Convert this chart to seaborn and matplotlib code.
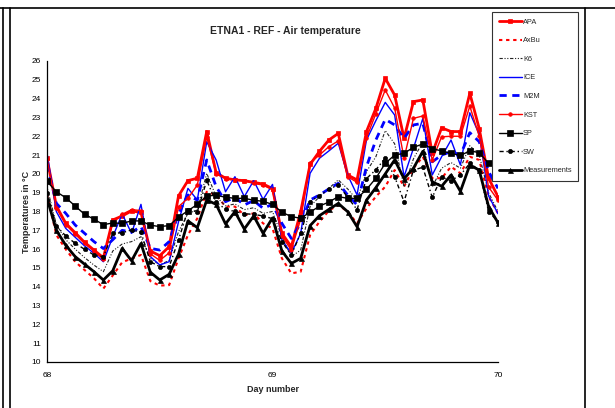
import numpy as np
import matplotlib
matplotlib.use("Agg")
import matplotlib.pyplot as plt
from matplotlib.lines import Line2D
import seaborn as sns

# Hourly air temperatures, day 68 00h to day 70 00h
start_day = 68
hours = list(range(49))

apa = [20.83, 18.29, 17.37, 16.87, 16.36, 15.95, 15.54, 17.55, 17.76, 18.03,
       17.95, 15.90, 15.65, 16.13, 18.83, 19.64, 19.77, 22.25, 20.06, 19.77,
       19.68, 19.64, 19.55, 19.46, 19.22, 16.84, 16.13, 17.99, 20.50, 21.20,
       21.80, 22.15, 19.94, 19.68, 22.25, 23.48, 25.08, 24.19, 21.89, 23.84,
       23.93, 21.09, 22.45, 22.25, 22.25, 24.28, 22.41, 19.77, 18.79]
axbu = [18.90, 16.75, 15.99, 15.33, 14.89, 14.45, 13.90, 14.60, 15.30, 15.50,
        15.69, 14.30, 14.06, 14.09, 15.51, 16.75, 17.64, 19.05, 18.88, 18.26,
        18.26, 17.81, 17.90, 17.37, 17.10, 15.51, 14.71, 14.80, 16.75, 17.46,
        18.04, 18.35, 17.99, 17.37, 18.17, 18.79, 19.32, 20.20, 19.32, 20.30,
        20.91, 19.77, 19.77, 20.38, 20.03, 20.91, 20.74, 18.79, 17.90]
k6 = [19.30, 17.30, 16.50, 16.00, 15.55, 15.15, 14.80, 15.90, 16.27, 16.40,
      16.66, 15.51, 15.16, 15.40, 16.93, 17.90, 18.08, 20.03, 18.79, 18.30,
      18.40, 18.10, 18.20, 17.90, 18.00, 16.66, 15.60, 15.95, 18.26, 18.79,
      19.23, 19.68, 19.20, 18.61, 20.12, 20.91, 22.30, 21.60, 19.30, 20.80,
      21.70, 19.30, 20.30, 20.60, 20.30, 21.50, 21.00, 19.00, 18.00]
ice = [21.10, 17.99, 17.10, 16.63, 16.17, 15.78, 15.33, 16.66, 17.87, 16.84,
       18.38, 15.60, 15.16, 15.33, 17.46, 19.23, 18.61, 21.71, 20.74, 19.05,
       19.85, 18.79, 19.64, 18.64, 19.44, 16.49, 15.78, 16.84, 20.03, 20.83,
       21.22, 21.63, 19.94, 18.88, 21.80, 22.83, 23.80, 23.13, 19.85, 21.36,
       22.95, 19.94, 20.91, 21.80, 20.47, 23.25, 22.10, 18.83, 17.88]
m2m = [20.50, 18.43, 17.90, 17.28, 16.84, 16.40, 16.03, 16.50, 17.00, 16.90,
       17.20, 16.04, 15.95, 16.40, 17.90, 18.88, 18.60, 20.74, 19.32, 18.52,
       18.75, 18.35, 18.58, 18.17, 18.38, 17.37, 16.57, 17.37, 18.61, 18.88,
       19.20, 19.50, 18.88, 18.35, 20.38, 21.80, 22.90, 22.60, 21.89, 22.60,
       22.69, 20.64, 21.00, 21.18, 21.00, 22.19, 21.71, 20.12, 19.23]
kst = [20.80, 18.20, 17.30, 16.80, 16.30, 15.90, 15.45, 17.40, 17.85, 18.10,
       18.05, 15.75, 15.40, 15.80, 18.26, 18.70, 19.41, 21.98, 20.00, 19.75,
       19.70, 19.62, 19.50, 19.40, 19.15, 16.70, 15.95, 17.60, 20.60, 21.00,
       21.45, 21.75, 19.85, 19.55, 21.90, 23.20, 24.46, 23.50, 20.83, 22.95,
       23.08, 20.74, 21.97, 22.00, 22.00, 23.60, 22.00, 19.30, 18.60]
sp = [19.60, 19.05, 18.73, 18.29, 17.85, 17.59, 17.30, 17.39, 17.37, 17.50,
      17.50, 17.27, 17.20, 17.25, 17.70, 18.04, 18.38, 18.83, 18.86, 18.76,
      18.70, 18.70, 18.60, 18.54, 18.38, 17.96, 17.73, 17.64, 17.96, 18.29,
      18.50, 18.79, 18.70, 18.70, 19.17, 19.77, 20.56, 21.00, 21.09, 21.41,
      21.59, 21.34, 21.22, 21.09, 20.98, 21.22, 21.13, 20.56, 20.30]
sw = [19.00, 17.23, 16.70, 16.31, 15.99, 15.69, 15.60, 16.84, 16.87, 17.02,
      16.90, 15.33, 15.07, 15.07, 16.49, 18.08, 17.99, 19.65, 18.50, 18.12,
      18.00, 17.88, 17.85, 17.76, 17.62, 16.40, 15.69, 16.84, 18.52, 18.85,
      19.17, 19.43, 18.75, 18.10, 19.75, 20.22, 20.83, 19.85, 18.52, 20.20,
      20.35, 18.75, 19.83, 19.64, 19.94, 20.56, 20.20, 17.99, 17.46]
measurements = [18.70, 17.00, 16.20, 15.60, 15.20, 14.80, 14.36, 14.85, 16.04, 15.38,
                16.30, 14.77, 14.36, 14.66, 15.74, 17.50, 17.14, 18.61, 18.38, 17.34,
                17.99, 17.07, 17.76, 16.84, 17.66, 15.90, 15.24, 15.51, 17.25, 17.78,
                18.11, 18.43, 17.99, 17.19, 18.60, 19.27, 20.00, 20.74, 19.75, 20.30,
                21.20, 19.58, 19.34, 19.94, 19.07, 20.47, 20.20, 18.26, 17.40]

series_names = ["APA", "AxBu", "K6", "ICE", "M2M", "KST", "SP", "SW", "Measurements"]
series_values = [apa, axbu, k6, ice, m2m, kst, sp, sw, measurements]

y_ticks = list(range(10, 27))
x_ticks = [68, 69, 70]

RED = "#ff0000"
BLUE = "#0000ff"
BLACK = "#000000"
styles = {
    "APA": dict(color=RED, linewidth=2.0, linestyle="-", marker="s", markersize=3.4),
    "AxBu": dict(color=RED, linewidth=1.5, linestyle=(0, (1.6, 1.8)), marker=None, markersize=0),
    "K6": dict(color="#222222", linewidth=0.8, linestyle=(0, (3, 1.5, 1, 1.5, 1, 1.5)), marker=None, markersize=0),
    "ICE": dict(color=BLUE, linewidth=1.0, linestyle="-", marker=None, markersize=0),
    "M2M": dict(color=BLUE, linewidth=2.0, linestyle=(0, (2.6, 2.0)), marker=None, markersize=0),
    "KST": dict(color=RED, linewidth=1.0, linestyle="-", marker="o", markersize=2.6),
    "SP": dict(color=BLACK, linewidth=1.0, linestyle="-", marker="s", markersize=4.8),
    "SW": dict(color=BLACK, linewidth=1.0, linestyle=(0, (3, 2, 1, 2)), marker="o", markersize=3.0),
    "Measurements": dict(color=BLACK, linewidth=2.0, linestyle="-", marker="^", markersize=3.6),
}

sns.set_theme(style="white")
plt.rcParams["font.family"] = ["Liberation Sans", "DejaVu Sans"]

W, H = 615, 408
fig = plt.figure(figsize=(W / 100, H / 100), dpi=100)
fig.patch.set_facecolor("white")

# plot area in pixel coordinates
x0, x1, y_top, y_bot = 47, 498, 61, 362
ax = fig.add_axes([x0 / W, 1 - y_bot / H, (x1 - x0) / W, (y_bot - y_top) / H])
ax.set_facecolor("white")

day = start_day + np.array(hours) / 24.0

for name, vals in zip(series_names, series_values):
    st = styles[name]
    kws = dict(color=st["color"], linewidth=st["linewidth"], linestyle=st["linestyle"])
    if st["marker"]:
        kws.update(marker=st["marker"], markersize=st["markersize"],
                   markeredgecolor=st["color"], markerfacecolor=st["color"],
                   markeredgewidth=0.5)
    sns.lineplot(x=day, y=vals, ax=ax, label=name, **kws)

ax.set_xlim(68, 70)
ax.set_ylim(10, 26)
ax.set_xticks(x_ticks)
ax.set_xticklabels([str(t) for t in x_ticks])
ax.set_yticks(y_ticks)
ax.set_yticklabels([str(t) for t in y_ticks])
ax.tick_params(axis="y", direction="inout", length=5, width=0.8, labelsize=6, pad=2, colors=BLACK)
ax.tick_params(axis="x", direction="out", length=3, width=0.8, labelsize=6, pad=4, colors=BLACK)
for side in ("top", "right"):
    ax.spines[side].set_visible(False)
for side in ("left", "bottom"):
    ax.spines[side].set_color(BLACK)
    ax.spines[side].set_linewidth(0.9)
ax.set_xlabel("")
ax.set_ylabel("")
ax.grid(False)

fig.text(285 / W, 1 - 31 / H, "ETNA1 - REF - Air temperature", ha="center", va="center",
         fontsize=7.5, fontweight="bold")
fig.text(27 / W, 1 - 212 / H, "Temperatures in °C", ha="center", va="center",
         rotation=90, fontsize=6.5, fontweight="bold")
fig.text(273 / W, 1 - 390 / H, "Day number", ha="center", va="center",
         fontsize=6.5, fontweight="bold")

leg = ax.legend(loc="upper left", bbox_to_anchor=(492 / W, 1 - 12 / H),
                bbox_transform=fig.transFigure, frameon=True, fancybox=False,
                edgecolor="#333333", framealpha=1, fontsize=5.3, labelspacing=1.55,
                handlelength=3.2, handletextpad=0.1, borderpad=0.9,
                borderaxespad=0)
leg.get_frame().set_linewidth(0.8)

# surrounding frame lines of the table cell
frame = dict(color=BLACK, linewidth=1.2, transform=fig.transFigure)
fig.add_artist(Line2D([0, 1], [1 - 8 / H, 1 - 8 / H], **frame))
fig.add_artist(Line2D([3 / W, 3 / W], [0, 1 - 8 / H], **frame))
fig.add_artist(Line2D([10 / W, 10 / W], [0, 1 - 8 / H], **frame))
fig.add_artist(Line2D([585 / W, 585 / W], [0, 1 - 8 / H], **frame))

fig.savefig("out.png", dpi=100, facecolor="white")
